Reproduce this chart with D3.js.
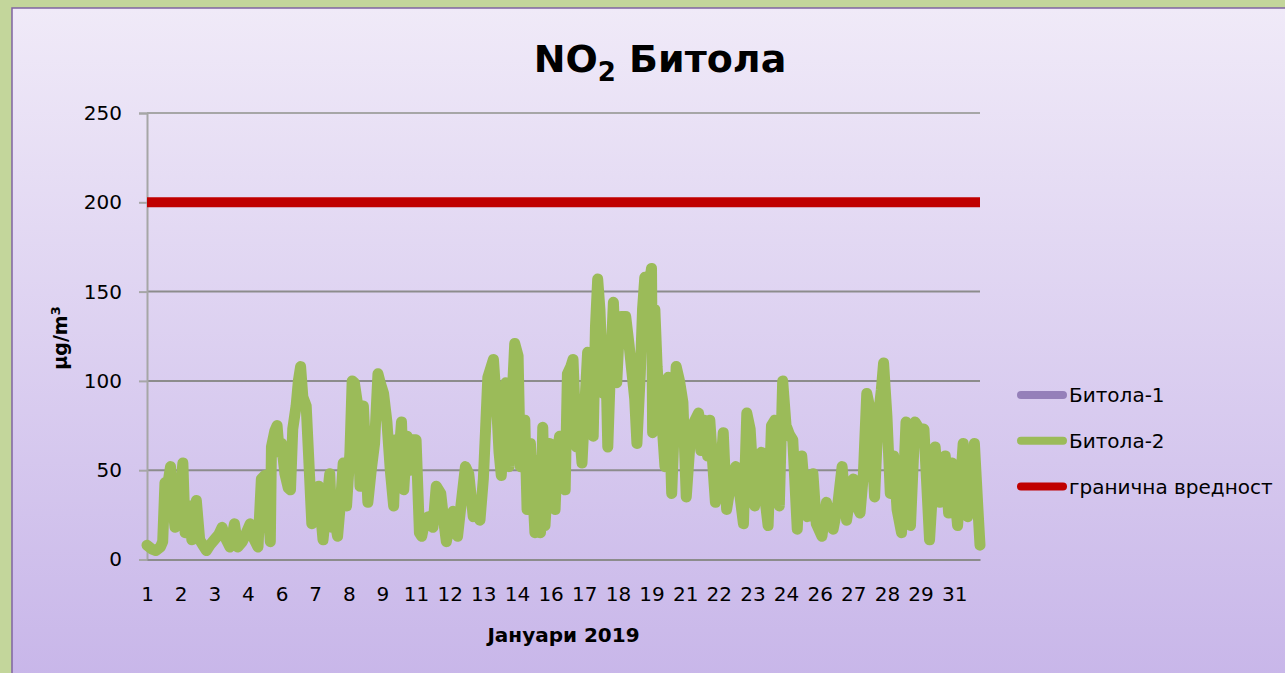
<!DOCTYPE html>
<html>
<head>
<meta charset="utf-8">
<script src="https://cdn.jsdelivr.net/npm/d3@7"></script>
<style>
  html, body { margin: 0; padding: 0; background: #c3d69b; }
  svg { display: block; }
  text { font-family: "Comic Sans MS", "DejaVu Sans", sans-serif; fill: #000; }
</style>
</head>
<body>
<svg id="chart" width="1285" height="673"></svg>
<script>
// ---- data ----
const hoursInMonth = 744;            // 31 days x 24 hours, category axis
const labelEvery = 30;               // a date label every 30 hours
const dayLabels = ['1','2','3','4','6','7','8','9','11','12','13','14','16','17','18','19',
                   '21','22','23','24','26','27','28','29','31'];
const yTicks = [0, 50, 100, 150, 200, 250];
const limitValue = 200;

// Битола-2 : [hour index, µg/m3]
const bitola2Days1to10 = [
  [0,8],[4,6],[8,5],[12,7],[14,10],[16,43],[18,40],[21,52],[23,30],[25,18],[27,25],[30,40],
  [32,54],[34,15],[36,25],[38,30],[40,11],[42,20],[44,33],[47,11],[50,8],[53,5],[56,8],[60,11],
  [64,14],[67,18],[70,12],[74,7],[78,20],[81,7],[85,10],[88,14],[92,20],[95,12],[99,7],[102,45],
  [105,47],[108,30],[110,10],[111,63],[114,72],[116,75],[118,60],[120,65],[123,48],[126,40],
  [128,39],[130,73],[133,86],[135,100],[137,108],[139,91],[142,86],[144,60],[147,20],[150,30],
  [153,41],[155,25],[157,11],[160,30],[163,48],[165,18],[168,20],[170,13],[173,35],[175,54],
  [178,30],[181,60],[183,100],[185,99],[188,86],[190,41],[193,86],[195,60],[197,32],[200,50],
  [203,65],[206,104],[208,99],[211,93],[214,77],[217,50],[220,30],[222,67],[225,60],[227,77],
  [229,39],[232,69],[235,50],[237,67],[240,67]
];
const bitola2Days11to20 = [
  [243,15],[245,13],[248,22],[251,24],[255,18],[258,41],[262,37],[265,20],[267,10],[270,20],
  [273,27],[277,13],[280,30],[284,52],[287,48],[291,24],[294,25],[297,22],[300,45],[302,73],
  [304,102],[307,108],[309,112],[312,84],[314,60],[316,47],[318,70],[320,99],[323,52],[326,95],
  [328,121],[331,114],[333,52],[335,70],[337,78],[339,28],[342,65],[344,40],[346,15],[348,45],
  [350,56],[351,15],[353,74],[355,19],[357,40],[359,65],[361,45],[364,28],[366,60],[368,69],
  [371,50],[373,39],[375,104],[378,108],[380,112],[383,63],[386,70],[388,54],[390,80],[393,116],
  [396,95],[398,69],[400,130],[402,157],[404,140],[407,93],[409,120],[411,63],[413,100],[416,144],
  [419,99],[421,125],[423,136],[427,136],[430,120],[432,108],[435,90],[437,65],[440,104],[442,140],
  [444,158],[447,150],[450,163],[451,71],[453,140],[455,108],[457,90],[459,80],[462,52],[465,102],
  [468,37],[470,70],[472,108],[475,100],[478,88]
];
const bitola2Days21to31 = [
  [481,35],[485,71],[488,77],[492,82],[494,61],[497,78],[500,58],[502,78],[505,50],[507,32],
  [511,45],[514,71],[517,28],[520,40],[525,52],[529,35],[532,20],[535,82],[538,73],[542,30],
  [545,45],[548,60],[551,35],[554,19],[557,75],[560,78],[564,30],[567,100],[570,75],[573,70],
  [576,67],[580,17],[582,45],[584,58],[587,35],[589,24],[592,40],[594,48],[597,20],[602,13],
  [606,32],[609,25],[612,17],[616,30],[620,52],[624,22],[627,35],[630,45],[633,30],[636,26],
  [639,48],[642,93],[645,84],[649,35],[652,78],[655,95],[657,110],[660,80],[663,37],[666,58],
  [669,28],[673,15],[677,77],[681,19],[685,77],[689,73],[693,73],[698,11],[703,63],[707,32],
  [712,58],[715,26],[718,54],[723,19],[728,65],[732,24],[736,45],[738,65],[741,30],[743,8]
];
// Битола-1 has no readings for the month (legend entry only)
const bitola1 = [];

const legendItems = [
  { name: 'Битола-1', color: '#9580b9' },
  { name: 'Битола-2', color: '#9bbb59' },
  { name: 'гранична вредност', color: '#c00000' }
];

// ---- layout ----
const svg = d3.select('#chart');
const W = 1285, H = 673;
const plot = { left: 147, top: 113, right: 980, bottom: 559.5 };
const fontStack = '"Comic Sans MS", "DejaVu Sans", sans-serif';

const defs = svg.append('defs');
const bg = defs.append('linearGradient')
  .attr('id', 'bg-grad').attr('x1', 0).attr('y1', 0).attr('x2', 0).attr('y2', 1);
bg.append('stop').attr('offset', '0%').attr('stop-color', '#f0eaf8');
bg.append('stop').attr('offset', '100%').attr('stop-color', '#c8b6e9');

svg.append('rect').attr('width', W).attr('height', H).attr('fill', '#c3d69b');
svg.append('rect')
  .attr('x', 12).attr('y', 8).attr('width', W).attr('height', H)
  .attr('fill', 'url(#bg-grad)')
  .attr('stroke', '#8064a2').attr('stroke-width', 1.5);

const x = d3.scaleLinear().domain([0, hoursInMonth - 1]).range([plot.left, plot.right]);
const y = d3.scaleLinear().domain([0, 250]).range([plot.bottom, plot.top]);

// gridlines
svg.append('g').selectAll('line')
  .data(yTicks.filter(d => d > 0))
  .enter().append('line')
  .attr('x1', plot.left).attr('x2', plot.right)
  .attr('y1', d => y(d)).attr('y2', d => y(d))
  .attr('stroke', d => d === 250 ? '#a6a6a6' : '#8c8c8c')
  .attr('stroke-width', 2);

// y axis
const yAxis = svg.append('g')
  .attr('transform', `translate(${plot.left},0)`)
  .call(d3.axisLeft(y).tickValues(yTicks).tickSize(8).tickPadding(17));
yAxis.select('.domain').attr('stroke', '#a6a6a6').attr('stroke-width', 2);
yAxis.selectAll('.tick line').attr('stroke', '#a6a6a6').attr('stroke-width', 2);
yAxis.selectAll('.tick text')
  .style('font-family', fontStack).style('font-size', '20px').attr('fill', '#000');

// x axis
const xAxis = svg.append('g')
  .attr('transform', `translate(0,${plot.bottom})`)
  .call(d3.axisBottom(x)
    .tickValues(dayLabels.map((d, i) => i * labelEvery))
    .tickFormat((d, i) => dayLabels[i])
    .tickSize(0).tickPadding(27));
xAxis.select('.domain').attr('stroke', '#8c8c8c').attr('stroke-width', 2);
xAxis.selectAll('.tick text')
  .style('font-family', fontStack).style('font-size', '20px').attr('fill', '#000');

// series
const line = d3.line().x(d => x(d[0])).y(d => y(d[1]));
const bitola2 = bitola2Days1to10.concat(bitola2Days11to20, bitola2Days21to31);

svg.append('path').datum(bitola1)
  .attr('fill', 'none').attr('stroke', legendItems[0].color).attr('stroke-width', 10)
  .attr('d', bitola1.length ? line(bitola1) : null);

svg.append('path').datum(bitola2)
  .attr('fill', 'none').attr('stroke', legendItems[1].color)
  .attr('stroke-width', 11).attr('stroke-linejoin', 'round').attr('stroke-linecap', 'round')
  .attr('d', line);

svg.append('path').datum([[0, limitValue], [hoursInMonth - 1, limitValue]])
  .attr('fill', 'none').attr('stroke', legendItems[2].color).attr('stroke-width', 10)
  .attr('d', line);

// title
const t = svg.append('text')
  .attr('x', 660).attr('y', 72).attr('text-anchor', 'middle')
  .style('font-size', '38px').style('font-weight', 'bold');
t.append('tspan').text('NO');
t.append('tspan').text('2').attr('dy', 9).style('font-size', '26px');
t.append('tspan').text(' Битола').attr('dy', -9);

// axis titles
const yl = svg.append('text')
  .attr('transform', 'translate(67,338) rotate(-90)')
  .attr('text-anchor', 'middle')
  .style('font-size', '19px').style('font-weight', 'bold');
yl.append('tspan').text('µg/m');
yl.append('tspan').text('3').attr('dy', -7).style('font-size', '13px');

svg.append('text')
  .attr('x', (plot.left + plot.right) / 2).attr('y', 642)
  .attr('text-anchor', 'middle')
  .style('font-size', '20px').style('font-weight', 'bold')
  .text('Јануари  2019');

// legend
const lg = svg.append('g').attr('transform', 'translate(1017,395)');
const li = lg.selectAll('g').data(legendItems).enter().append('g')
  .attr('transform', (d, i) => `translate(0,${i * 45.8})`);
li.append('line').attr('x1', 4).attr('x2', 46)
  .attr('stroke', d => d.color).attr('stroke-width', 8).attr('stroke-linecap', 'round');
li.append('text').attr('x', 52).attr('y', 0).attr('dy', '0.35em')
  .style('font-size', '20px').text(d => d.name);
</script>
</body>
</html>
